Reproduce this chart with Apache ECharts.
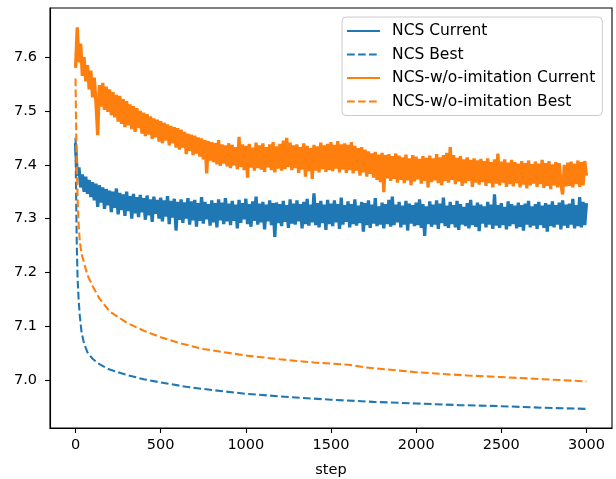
<!DOCTYPE html>
<html>
<head>
<meta charset="utf-8">
<script src="https://cdn.jsdelivr.net/npm/echarts@6/dist/echarts.min.js"></script>
<style>html,body{margin:0;padding:0;background:#fff}#c{width:616px;height:479px}</style>
</head>
<body>
<div id="c"></div>
<script>
// ---- data ----
const seriesNames = ['NCS Current', 'NCS Best', 'NCS-w/o-imitation Current', 'NCS-w/o-imitation Best'];
const xTicks = [0, 500, 1000, 1500, 2000, 2500, 3000];
const yTicks = [7.0, 7.1, 7.2, 7.3, 7.4, 7.5, 7.6];

// sampled every 10 steps, 0..3000
const currentSteps = Array.from({length: 301}, (_, i) => i * 10);

const ncsCurrent = [
7.440,7.380,7.395,7.358,7.382,7.350,7.378,7.346,7.372,7.340,
7.368,7.334,7.365,7.322,7.362,7.330,7.358,7.318,7.355,7.325,
7.352,7.312,7.350,7.320,7.356,7.308,7.348,7.316,7.345,7.305,
7.350,7.314,7.342,7.300,7.346,7.310,7.340,7.303,7.344,7.312,
7.338,7.298,7.343,7.306,7.336,7.294,7.341,7.309,7.335,7.300,
7.339,7.295,7.334,7.304,7.342,7.290,7.333,7.302,7.337,7.278,
7.331,7.298,7.336,7.292,7.330,7.300,7.338,7.289,7.332,7.297,
7.335,7.285,7.329,7.296,7.340,7.291,7.331,7.299,7.327,7.287,
7.334,7.293,7.329,7.284,7.336,7.297,7.330,7.290,7.338,7.295,
7.328,7.288,7.333,7.296,7.326,7.282,7.335,7.292,7.329,7.299,
7.337,7.290,7.327,7.285,7.332,7.296,7.341,7.289,7.328,7.293,
7.331,7.280,7.326,7.295,7.334,7.288,7.329,7.266,7.330,7.292,
7.327,7.286,7.333,7.294,7.325,7.283,7.336,7.291,7.328,7.289,
7.334,7.295,7.327,7.282,7.331,7.290,7.337,7.287,7.326,7.293,
7.347,7.288,7.329,7.284,7.333,7.292,7.326,7.279,7.335,7.290,
7.328,7.286,7.334,7.293,7.327,7.281,7.339,7.289,7.325,7.294,
7.332,7.284,7.327,7.290,7.336,7.287,7.324,7.292,7.331,7.276,
7.329,7.288,7.334,7.283,7.326,7.291,7.338,7.286,7.323,7.289,
7.330,7.282,7.327,7.290,7.335,7.285,7.341,7.288,7.326,7.293,
7.331,7.284,7.324,7.289,7.333,7.278,7.328,7.291,7.325,7.286,
7.330,7.288,7.336,7.283,7.327,7.268,7.323,7.290,7.332,7.285,
7.326,7.289,7.334,7.281,7.328,7.292,7.339,7.286,7.324,7.283,
7.331,7.290,7.325,7.284,7.333,7.279,7.327,7.289,7.322,7.286,
7.329,7.282,7.335,7.288,7.324,7.285,7.330,7.277,7.326,7.291,
7.323,7.284,7.331,7.289,7.326,7.281,7.345,7.287,7.325,7.283,
7.329,7.288,7.322,7.280,7.332,7.286,7.327,7.290,7.324,7.282,
7.330,7.285,7.325,7.278,7.328,7.289,7.333,7.284,7.323,7.287,
7.327,7.281,7.331,7.288,7.324,7.283,7.329,7.276,7.326,7.286,
7.332,7.284,7.325,7.289,7.330,7.280,7.334,7.287,7.326,7.283,
7.328,7.289,7.337,7.282,7.325,7.286,7.340,7.284,7.331,7.288,
7.329
];

const woCurrent = [
7.580,7.655,7.590,7.625,7.565,7.600,7.555,7.585,7.540,7.575,
7.525,7.562,7.515,7.455,7.548,7.508,7.552,7.502,7.545,7.498,
7.540,7.492,7.535,7.488,7.530,7.480,7.528,7.476,7.522,7.470,
7.518,7.473,7.512,7.466,7.509,7.461,7.505,7.468,7.500,7.458,
7.497,7.453,7.494,7.456,7.490,7.448,7.486,7.451,7.484,7.443,
7.481,7.440,7.478,7.445,7.475,7.436,7.472,7.440,7.470,7.432,
7.468,7.428,7.465,7.432,7.461,7.420,7.458,7.426,7.456,7.418,
7.454,7.421,7.451,7.415,7.449,7.410,7.446,7.384,7.444,7.408,
7.442,7.405,7.440,7.401,7.446,7.398,7.438,7.402,7.436,7.397,
7.440,7.394,7.437,7.399,7.433,7.392,7.452,7.396,7.438,7.390,
7.435,7.376,7.439,7.395,7.432,7.389,7.441,7.394,7.436,7.391,
7.440,7.387,7.433,7.395,7.438,7.390,7.442,7.386,7.434,7.393,
7.439,7.389,7.445,7.392,7.450,7.396,7.441,7.390,7.436,7.394,
7.438,7.385,7.433,7.391,7.440,7.378,7.435,7.388,7.431,7.374,
7.437,7.389,7.434,7.386,7.441,7.392,7.436,7.387,7.439,7.390,
7.442,7.388,7.437,7.393,7.444,7.386,7.438,7.391,7.440,7.385,
7.437,7.390,7.442,7.384,7.435,7.389,7.431,7.380,7.433,7.386,
7.428,7.378,7.425,7.383,7.421,7.376,7.424,7.372,7.419,7.368,
7.422,7.349,7.418,7.375,7.420,7.370,7.416,7.374,7.421,7.367,
7.417,7.372,7.414,7.366,7.419,7.371,7.412,7.362,7.418,7.369,
7.415,7.373,7.411,7.365,7.416,7.370,7.413,7.358,7.417,7.368,
7.412,7.371,7.420,7.366,7.414,7.362,7.418,7.370,7.422,7.367,
7.433,7.372,7.418,7.364,7.413,7.369,7.416,7.361,7.410,7.366,
7.414,7.370,7.409,7.359,7.412,7.367,7.408,7.363,7.411,7.368,
7.407,7.361,7.412,7.366,7.405,7.358,7.410,7.365,7.421,7.362,
7.406,7.367,7.410,7.359,7.404,7.364,7.409,7.360,7.405,7.366,
7.402,7.358,7.407,7.363,7.403,7.356,7.408,7.362,7.401,7.365,
7.406,7.359,7.402,7.364,7.409,7.357,7.403,7.361,7.407,7.355,
7.401,7.362,7.405,7.358,7.403,7.363,7.345,7.400,7.360,7.404,
7.361,7.406,7.358,7.402,7.364,7.408,7.359,7.405,7.362,7.407,
7.380
];

const ncsBestSteps  = [0, 2, 5, 8, 12, 18, 25, 35, 50, 70, 100, 140, 200, 300, 400, 500, 650, 800, 1000, 1250, 1500, 1750, 2000, 2250, 2500, 2750, 3000];
const ncsBest       = [7.45, 7.38, 7.30, 7.24, 7.19, 7.15, 7.12, 7.09, 7.068, 7.052, 7.04, 7.03, 7.02, 7.01, 7.002, 6.996, 6.988, 6.982, 6.975, 6.969, 6.964, 6.960, 6.957, 6.954, 6.952, 6.949, 6.947];

const woBestSteps   = [0, 2, 5, 8, 12, 18, 25, 35, 50, 70, 100, 140, 200, 300, 400, 500, 600, 750, 1000, 1200, 1400, 1600, 1700, 2000, 2300, 2500, 2750, 3000];
const woBest        = [7.56, 7.50, 7.44, 7.39, 7.34, 7.29, 7.258, 7.235, 7.218, 7.195, 7.175, 7.152, 7.128, 7.107, 7.092, 7.080, 7.070, 7.058, 7.046, 7.039, 7.033, 7.029, 7.024, 7.015, 7.009, 7.006, 7.002, 6.998];

// ---- chart ----
const zip = (xs, ys) => xs.map((x, i) => [x, ys[i]]);
const BLUE = '#1f77b4', ORANGE = '#ff7f0e';
const FONT = 'DejaVu Sans';
const LW = 2.08;
const LW_NOISY = 3.3;
const DASH = [7.7, 3.3];

const chart = echarts.init(document.getElementById('c'), null, {renderer: 'canvas'});
chart.setOption({
  animation: false,
  backgroundColor: '#fff',
  textStyle: {fontFamily: FONT},
  grid: {left: 50, right: 4, top: 8, bottom: 51, show: true, borderColor: '#000', borderWidth: 1.1,
    containLabel: false, outerBoundsMode: 'none'},
  legend: {
    orient: 'vertical', left: 342, top: 17,
    padding: [6, 7, 6, 4],
    itemWidth: 33, itemHeight: 16, itemGap: 7.5,
    backgroundColor: 'rgba(255,255,255,0.8)',
    borderColor: '#cccccc', borderWidth: 1, borderRadius: 4,
    itemStyle: {opacity: 0},
    lineStyle: {width: LW},
    textStyle: {fontFamily: FONT, fontSize: 15.5, color: '#000', lineHeight: 16, padding: [0, 0, 0, 7]},
    data: seriesNames
  },
  xAxis: {
    type: 'value', min: -150, max: 3150,
    name: 'step', nameLocation: 'middle', nameGap: 35,
    nameTextStyle: {fontFamily: FONT, fontSize: 14.5, color: '#000'},
    splitLine: {show: false},
    axisLine: {show: true, onZero: false, lineStyle: {color: '#000', width: 1.1}},
    axisTick: {show: true, length: 5, customValues: xTicks, lineStyle: {color: '#000', width: 1.1}},
    axisLabel: {customValues: xTicks, margin: 10, fontFamily: FONT, fontSize: 14.5, color: '#000',
      formatter: v => String(v)}
  },
  yAxis: {
    type: 'value', min: 6.9115, max: 7.691,
    splitLine: {show: false},
    axisLine: {show: true, onZero: false, lineStyle: {color: '#000', width: 1.1}},
    axisTick: {show: true, length: 5, customValues: yTicks, lineStyle: {color: '#000', width: 1.1}},
    axisLabel: {customValues: yTicks, margin: 13, fontFamily: FONT, fontSize: 14.5, color: '#000',
      formatter: v => v.toFixed(1)}
  },
  series: [
    {name: seriesNames[0], type: 'line', symbol: 'none', data: zip(currentSteps, ncsCurrent),
      lineStyle: {color: BLUE, width: LW_NOISY, join: 'bevel'}, itemStyle: {color: BLUE}},
    {name: seriesNames[1], type: 'line', symbol: 'none', data: zip(ncsBestSteps, ncsBest),
      lineStyle: {color: BLUE, width: LW, type: DASH}, itemStyle: {color: BLUE}},
    {name: seriesNames[2], type: 'line', symbol: 'none', data: zip(currentSteps, woCurrent),
      lineStyle: {color: ORANGE, width: LW_NOISY, join: 'bevel'}, itemStyle: {color: ORANGE}},
    {name: seriesNames[3], type: 'line', symbol: 'none', data: zip(woBestSteps, woBest),
      lineStyle: {color: ORANGE, width: LW, type: DASH}, itemStyle: {color: ORANGE}}
  ]
});
</script>
</body>
</html>
